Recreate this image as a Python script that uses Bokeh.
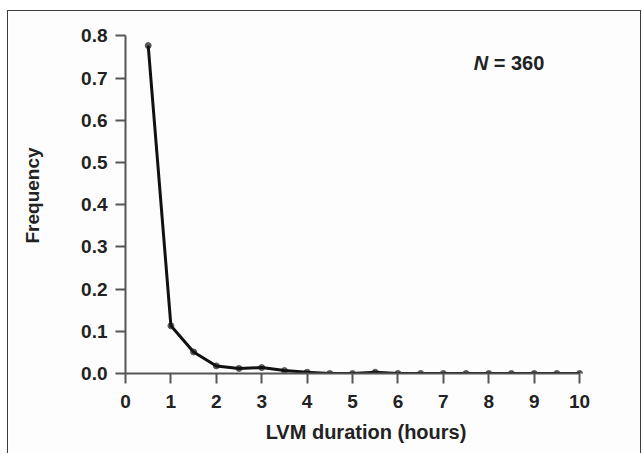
from bokeh.plotting import figure
from bokeh.models import Range1d, LinearAxis, FixedTicker, PrintfTickFormatter, Label
from bokeh.embed import file_html
from bokeh.resources import INLINE

# ---- data ----
durations = [0.5, 1.0, 1.5, 2.0, 2.5, 3.0, 3.5, 4.0, 4.5, 5.0,
             5.5, 6.0, 6.5, 7.0, 7.5, 8.0, 8.5, 9.0, 9.5, 10.0]
frequency = [0.777, 0.113, 0.051, 0.018, 0.012, 0.014, 0.007, 0.003, 0.0, 0.0,
             0.003, 0.0, 0.0, 0.0, 0.0, 0.0, 0.0, 0.0, 0.0, 0.0]
x_ticks = [0, 1, 2, 3, 4, 5, 6, 7, 8, 9, 10]
y_ticks = [0.0, 0.1, 0.2, 0.3, 0.4, 0.5, 0.6, 0.7, 0.8]
x_title = "LVM duration (hours)"
y_title = "Frequency"
n_label_var = "N"
n_label_val = "= 360"

FONT = "Liberation Sans"
BG = "#fdfdfd"
AXC = "#555555"
TXT = "#222222"

p = figure(width=634, height=443, output_backend="svg", toolbar_location=None,
           x_range=Range1d(0, 10.593), y_range=Range1d(0, 0.8436),
           x_axis_location=None, y_axis_location=None,
           min_border_left=117, min_border_right=36,
           min_border_top=6, min_border_bottom=81,
           margin=(10, 0, 0, 7))
p.styles = {"border-top": "1px solid #3c3c3c",
            "border-left": "1px solid #3c3c3c",
            "border-right": "1px solid #3c3c3c"}
p.background_fill_color = BG
p.border_fill_color = BG
p.outline_line_color = None
p.xgrid.visible = False
p.ygrid.visible = False

def style_axis(ax, label_standoff, title_standoff, title_size):
    ax.axis_line_color = AXC
    ax.axis_line_width = 2
    ax.major_tick_line_color = AXC
    ax.major_tick_line_width = 2
    ax.major_tick_in = 0
    ax.major_tick_out = 10
    ax.minor_tick_line_color = None
    ax.major_label_text_font = FONT
    ax.major_label_text_font_size = "19px"
    ax.major_label_text_font_style = "bold"
    ax.major_label_text_color = TXT
    ax.major_label_standoff = label_standoff
    ax.axis_label_text_font = FONT
    ax.axis_label_text_font_size = title_size
    ax.axis_label_text_font_style = "bold"
    ax.axis_label_text_color = TXT
    ax.axis_label_standoff = title_standoff

xaxis = LinearAxis(bounds=(0, 10), ticker=FixedTicker(ticks=x_ticks),
                   axis_label=x_title)
style_axis(xaxis, 11, 10, "20px")
p.add_layout(xaxis, "below")

yaxis = LinearAxis(bounds=(0, 0.8), ticker=FixedTicker(ticks=y_ticks),
                   formatter=PrintfTickFormatter(format="%.1f"),
                   axis_label=y_title)
style_axis(yaxis, 8, 35, "19px")
p.add_layout(yaxis, "left")

# data
p.scatter(durations, frequency, size=6, color="#5a5a5a")
p.line(durations, frequency, line_color="#111111", line_width=3, line_join="round")

# N = 360 annotation
p.add_layout(Label(x=7.67, y=0.7363, text=n_label_var, text_font=FONT,
                   text_font_size="20px", text_font_style="bold italic",
                   text_color=TXT, text_baseline="alphabetic"))
p.add_layout(Label(x=8.11, y=0.7363, text=n_label_val, text_font=FONT,
                   text_font_size="20px", text_font_style="bold",
                   text_color=TXT, text_baseline="alphabetic"))

open("out.html", "w").write(file_html(p, INLINE))
